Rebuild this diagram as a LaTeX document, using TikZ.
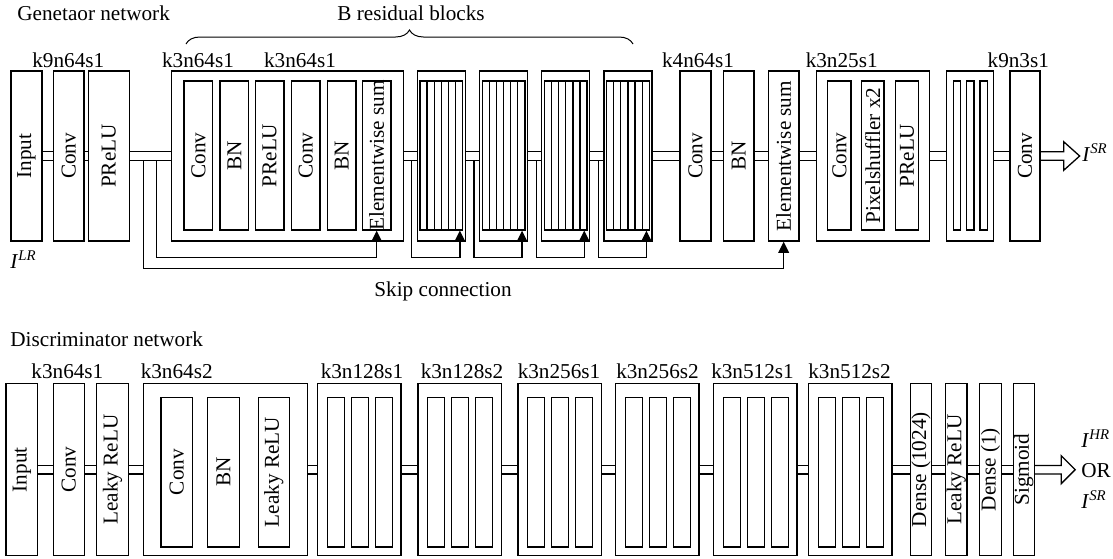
\documentclass[tikz,border=0pt]{standalone}
\usepackage{fontspec}
\setmainfont{Liberation Serif}
\usetikzlibrary{arrows.meta,calc,fit,decorations.pathreplacing}

\newcommand{\vlabel}[1]{\rotatebox{90}{\makebox[0pt]{#1}}}
\newcommand{\img}[1]{\textit{I}\textsuperscript{\textit{#1}}}

\tikzset{
  layer/.style={draw, line width=.65pt, inner sep=0pt},
  link/.style={double, double distance=3.65pt, line width=.65pt},
  skip/.style={line width=.65pt, -{Triangle[width=5.4pt,length=5.6pt]}},
  hint/.style={anchor=base},
}

\begin{document}
\begin{tikzpicture}[x=0.5pt, y=-0.5pt, inner sep=0pt, font=\fontsize{10.6pt}{12pt}\selectfont]
    \useasboundingbox (0,0) rectangle (1113,558);

    % Generator network
    \node[anchor=base west] (gtitle) at (17,20.7) {Genetaor network};
    \node[hint] (gnb) at (411,20) {B residual blocks};
    \draw[decorate, decoration={brace, amplitude=7pt}, line width=.5pt] (186,44) -- (633,44);

    \node[layer, fit={(11,71) (42,241)}] (gin) {\vlabel{Input}};
    \node[layer, fit={(53.3,71) (84,241)}] (gconv) {\vlabel{Conv}};
    \node[layer, fit={(88.3,71) (129.3,241)}] (gprelu) {\vlabel{PReLU}};

    % first residual block, drawn in full
    \node[layer, fit={(171.7,71) (403.3,241)}] (res1) {};
    \foreach \n/\x/\t in {r1a/184/Conv, r1b/220/BN, r1c/255.3/PReLU, r1d/291.3/Conv, r1e/327.3/BN, r1sum/362.3/Elementwise sum}
        \node[layer, fit={(\x,81) ({\x+28.7},230)}] (\n) {\vlabel{\t}};

    % the other residual blocks
    \foreach \i/\l in {2/417.3, 3/479.5, 4/541.7, 5/603.9} {
        \node[layer, fit={(\l,71) ({\l+48},241)}] (res\i) {};
        \node[layer, fit={({\l+2.7},81) ({\l+45.4},230)}] (in\i) {};
        \foreach \k in {1,...,5}
            \draw[line width=.65pt] ({\l+2.7+7.12*\k},81) -- ({\l+2.7+7.12*\k},230);
    }

    \node[layer, fit={(680,71) (711,241)}] (gconv2) {\vlabel{Conv}};
    \node[layer, fit={(723.3,71) (754,241)}] (gbn) {\vlabel{BN}};
    \node[layer, fit={(768.3,71) (799,241)}] (gsum) {\vlabel{Elementwise sum}};

    % upsampling blocks
    \node[layer, fit={(816.7,71) (929.3,241)}] (up1) {};
    \node[layer, fit={(827.7,81) (851,230)}] (u1a) {\vlabel{Conv}};
    \node[layer, fit={(861.7,81) (884,230)}] (u1b) {\vlabel{Pixelshuffler x2}};
    \node[layer, fit={(895.7,81) (918.3,230)}] (u1c) {\vlabel{PReLU}};
    \node[layer, fit={(946.7,71) (993.3,241)}] (up2) {};
    \foreach \n/\x in {u2a/953.3, u2b/966.7, u2c/980}
        \node[layer, fit={(\x,81) ({\x+7.4},230)}] (\n) {};

    \node[layer, fit={(1010,71) (1040,241)}] (gconv3) {\vlabel{Conv}};

    \foreach \a/\b in {gin/gconv, gconv/gprelu, gprelu/res1, res1/res2, res2/res3, res3/res4, res4/res5,
                       res5/gconv2, gconv2/gbn, gbn/gsum, gsum/up1, up1/up2, up2/gconv3}
        \draw[link] (\a) -- (\b);

    % skip connections
    \coordinate (sk0) at (143.3,160.3);
    \coordinate (sk1) at (156.7,160.3);
    \draw[skip] (sk0) -- ++(0,108.5) -| (gsum.south);
    \draw[skip] (sk1) -- ++(0,97.5) -| (r1sum.south);
    \foreach \i/\l in {2/417.3, 3/479.5, 4/541.7, 5/603.9} {
        \coordinate (sk\i) at ({\l-5.5},160.3);
        \draw[skip] (sk\i) -- ++(0,97.5) -| ($(in\i.south east)+(-3.5,0)$);
    }

    \draw[line width=.65pt] ($(gconv3.east)+(0,-4.3)$) -- ++(23,0) -- ++(0,-10) -- ++(16,14.3)
        -- ++(-16,14.3) -- ++(0,-10) -- ++(-23,0);
    \node[anchor=base west] (gout) at (1082,161) {\img{SR}};
    \node[anchor=base west] (glr) at (10,268) {\img{LR}};
    \node[hint] (gskip) at (443,296) {Skip connection};

    \foreach \t/\x in {k9n64s1/68.3, k3n64s1/198, k3n64s1/300, k4n64s1/698, k3n25s1/841.7, k9n3s1/1018.3}
        \node[hint] at (\x,67) {\t};

    % Discriminator network
    \node[anchor=base west] (dtitle) at (10,346) {Discriminator network};

    \node[layer, fit={(6,383.7) (37.7,555.7)}] (din) {\vlabel{Input}};
    \node[layer, fit={(53.3,383.7) (84.3,555.7)}] (dconv) {\vlabel{Conv}};
    \node[layer, fit={(96.7,383.7) (128.3,555.7)}] (dlrelu) {\vlabel{Leaky ReLU}};

    \node[layer, fit={(143.3,383.7) (307.7,555.7)}] (dblk1) {};
    \node[layer, fit={(161,397.3) (192.3,547)}] (d1a) {\vlabel{Conv}};
    \node[layer, fit={(207.7,397.3) (239.3,547)}] (d1b) {\vlabel{BN}};
    \node[layer, fit={(258.3,397.3) (289.3,547)}] (d1c) {\vlabel{Leaky ReLU}};

    \foreach \i/\l in {2/317.8, 3/417.9, 4/517.9, 5/615.7, 6/713.6, 7/808.6} {
        \node[layer, fit={(\l,383.7) ({\l+83.3},555.7)}] (dblk\i) {};
        \foreach \k in {0,1,2}
            \node[layer, fit={({\l+9.6+24*\k},397.3) ({\l+26.6+24*\k},547)}] (d\i s\k) {};
    }

    \node[layer, fit={(910.2,383.7) (931.8,555.7)}] (ddense) {\vlabel{Dense (1024)}};
    \node[layer, fit={(945.7,383.7) (966.9,555.7)}] (dlrelu2) {\vlabel{Leaky ReLU}};
    \node[layer, fit={(979.7,383.7) (1001.3,555.7)}] (ddense2) {\vlabel{Dense (1)}};
    \node[layer, fit={(1013.3,383.7) (1034.5,555.7)}] (dsig) {\vlabel{Sigmoid}};

    \foreach \a/\b in {din/dconv, dconv/dlrelu, dlrelu/dblk1, dblk1/dblk2, dblk2/dblk3, dblk3/dblk4,
                       dblk4/dblk5, dblk5/dblk6, dblk6/dblk7, dblk7/ddense, ddense/dlrelu2,
                       dlrelu2/ddense2, ddense2/dsig}
        \draw[link] (\a) -- (\b);

    \draw[line width=.65pt] ($(dsig.east)+(0,-4.3)$) -- ++(26,0) -- ++(0,-9.7) -- ++(14,14)
        -- ++(-14,14) -- ++(0,-9.7) -- ++(-26,0);
    \node[anchor=base west] (dhr) at (1081,447) {\img{HR}};
    \node[anchor=base west] (dor) at (1081,477) {OR};
    \node[anchor=base west] (dsr) at (1081,508) {\img{SR}};

    \foreach \t/\x in {k3n64s1/67.4, k3n64s2/176.7, k3n128s1/362, k3n128s2/462, k3n256s1/559,
                       k3n256s2/657.5, k3n512s1/752.5, k3n512s2/849.6}
        \node[hint] at (\x,378) {\t};
\end{tikzpicture}
\end{document}
